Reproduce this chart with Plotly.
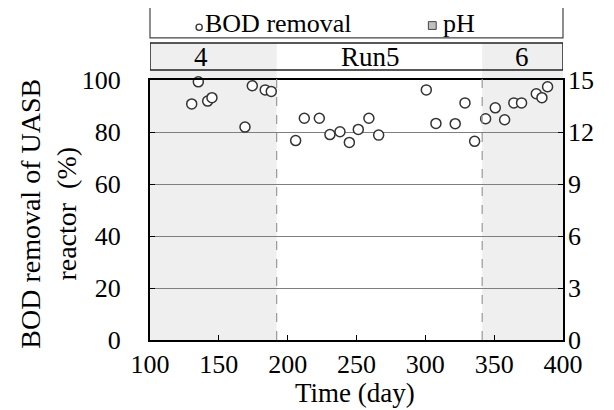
import plotly.graph_objects as go

# Data
days = [130.3, 135.1, 141.9, 145.0, 169.0, 174.3, 183.7, 188.1,
        205.8, 212.1, 223.0, 230.7, 238.0, 244.8, 251.3, 259.0, 266.1,
        300.7, 307.7, 321.7, 328.8, 335.8,
        343.8, 350.8, 357.6, 364.3, 369.9, 380.6, 384.7, 388.8]
bod_removal = [90.8, 99.3, 91.9, 93.2, 81.9, 97.8, 96.2, 95.6,
               76.7, 85.3, 85.3, 79.0, 80.1, 76.0, 81.0, 85.3, 78.8,
               96.2, 83.3, 83.2, 91.2, 76.4,
               85.1, 89.3, 84.7, 91.2, 91.2, 94.7, 93.2, 97.4]

run_boundaries = [100, 192, 341.3, 400]   # day ranges of runs 4, 5, 6
run_labels = ["4", "Run5", "6"]
run_label_x = [137, 260, 370]
run_shaded = [True, False, True]

x_ticks = [100, 150, 200, 250, 300, 350, 400]
y_ticks = [0, 20, 40, 60, 80, 100]
y2_ticks = [0, 3, 6, 9, 12, 15]

FONT = "Times New Roman, Liberation Serif, Times, serif"
FS = 26
SHADE = "#efefef"

fig = go.Figure()
fig.add_trace(go.Scatter(
    x=days, y=bod_removal, mode="markers", name="BOD removal",
    marker=dict(symbol="circle", size=10, color="white",
                line=dict(color="#333333", width=1.5)),
    cliponaxis=False, showlegend=False))
# invisible trace on secondary axis (pH) to activate it
fig.add_trace(go.Scatter(x=[None], y=[None], yaxis="y2", showlegend=False))

shapes = []
run_top = 1.038
bar_top = 1.142
for i, lab in enumerate(run_labels):
    x0, x1 = run_boundaries[i], run_boundaries[i + 1]
    if run_shaded[i]:
        shapes.append(dict(type="rect", xref="x", yref="paper", x0=x0, x1=x1,
                           y0=0, y1=run_top, fillcolor=SHADE, line=dict(width=0),
                           layer="below"))
        shapes.append(dict(type="rect", xref="x", yref="paper", x0=x0, x1=x1,
                           y0=run_top, y1=bar_top, fillcolor=SHADE, line=dict(width=0),
                           layer="below"))
for b in run_boundaries[1:-1]:
    shapes.append(dict(type="line", xref="x", yref="paper", x0=b, x1=b,
                       y0=0, y1=run_top, line=dict(color="#999999", width=1.2, dash="dash")))
# run bar outline
shapes.append(dict(type="rect", xref="x", yref="paper", x0=run_boundaries[0],
                   x1=run_boundaries[-1], y0=run_top, y1=bar_top,
                   line=dict(color="#222222", width=1.5), fillcolor="rgba(0,0,0,0)"))
# legend box
shapes.append(dict(type="rect", xref="paper", yref="paper", x0=0, x1=1,
                   y0=1.162, y1=1.29, line=dict(color="#444444", width=1.2),
                   fillcolor="white"))
# legend circle
shapes.append(dict(type="circle", xref="paper", yref="paper",
                   x0=0.119 - 0.0075, x1=0.119 + 0.0075,
                   y0=1.203 - 0.0118, y1=1.203 + 0.0118,
                   line=dict(color="#333333", width=1.3), fillcolor="white"))
# legend square
shapes.append(dict(type="rect", xref="paper", yref="paper",
                   x0=0.6835 - 0.0095, x1=0.6835 + 0.0095,
                   y0=1.2095 - 0.015, y1=1.2095 + 0.015,
                   line=dict(color="#444444", width=1), fillcolor="#c0c0c0"))

annotations = []
for lab, xl in zip(run_labels, run_label_x):
    annotations.append(dict(text=lab, x=xl, y=(run_top + bar_top) / 2,
                            xref="x", yref="paper", showarrow=False,
                            xanchor="center", yanchor="middle",
                            font=dict(family=FONT, size=27, color="black")))
annotations.append(dict(text="BOD removal", x=0.128, y=1.216, xref="paper", yref="paper",
                        showarrow=False, xanchor="left", yanchor="middle",
                        font=dict(family=FONT, size=26, color="black")))
annotations.append(dict(text="pH", x=0.704, y=1.216, xref="paper", yref="paper",
                        showarrow=False, xanchor="left", yanchor="middle",
                        font=dict(family=FONT, size=26, color="black")))
annotations.append(dict(text="BOD removal of UASB<br>reactor  (%)", x=-0.245, y=0.485,
                        xref="paper", yref="paper", showarrow=False, textangle=-90,
                        xanchor="center", yanchor="middle",
                        font=dict(family=FONT, size=28, color="black")))
annotations.append(dict(text="Time (day)", x=0.497, y=-0.205, xref="paper", yref="paper",
                        showarrow=False, xanchor="center", yanchor="middle",
                        font=dict(family=FONT, size=27, color="black")))

# page has an 8px body margin, so the figure is sized/offset to compensate
fig.update_layout(
    width=606, height=402,
    margin=dict(l=142, r=51, t=72, b=70),
    paper_bgcolor="white", plot_bgcolor="white",
    font=dict(family=FONT, size=FS, color="black"),
    showlegend=False,
    shapes=shapes, annotations=annotations,
    xaxis=dict(range=[100, 400], tickvals=x_ticks, ticks="inside", ticklen=5,
               tickcolor="black", showgrid=False, zeroline=False,
               showline=True, linecolor="black", linewidth=2, mirror=True,
               tickfont=dict(family=FONT, size=FS)),
    yaxis=dict(range=[0, 100], tickvals=y_ticks, ticks="inside", ticklen=5,
               tickcolor="black", showgrid=True, gridcolor="#7f7f7f", gridwidth=1,
               zeroline=False, showline=True, linecolor="black", linewidth=2,
               mirror=True, ticklabelstandoff=22,
               tickfont=dict(family=FONT, size=FS)),
    yaxis2=dict(range=[0, 15], tickvals=y2_ticks, ticks="inside", ticklen=5,
                tickcolor="black", overlaying="y", side="right", showgrid=False,
                zeroline=False, showline=False, ticklabelstandoff=4,
                tickfont=dict(family=FONT, size=FS)),
)

fig.write_html("out.html")
